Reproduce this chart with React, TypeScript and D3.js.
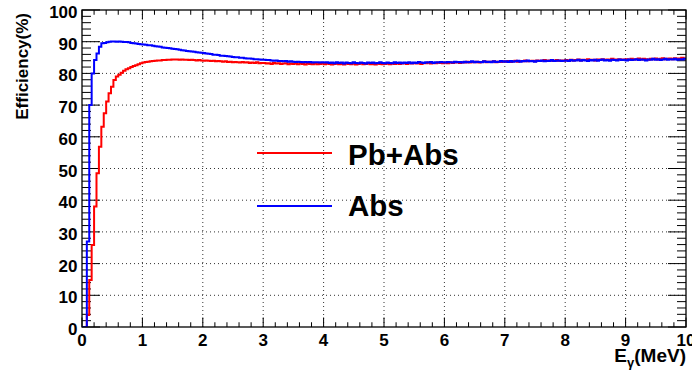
import React from 'react';
import * as d3 from 'd3';

const W = 692;
const H = 371;

// Tick labels
const xTickLabels = ['0', '1', '2', '3', '4', '5', '6', '7', '8', '9', '10'];
const yTickLabels = ['0', '10', '20', '30', '40', '50', '60', '70', '80', '90', '100'];

// Histogram binning (0.04 MeV bins from 0 to 10 MeV)
const BIN_WIDTH = 0.04;

// Pb+Abs efficiency (%) per bin
const pbAbs = [
  0, 0, 3.8, 14.8, 25.9, 38, 48.5, 56.9, 63.2, 67.4, 71.1, 73.7, 75.8, 77.9, 79.0, 79.6, 80.2, 80.8, 81.3, 81.6, 82.0, 82.3, 82.6, 82.9, 83.2,
  83.4, 83.6, 83.7, 83.8, 83.9, 84.0, 84.1, 84.1, 84.2, 84.2, 84.3, 84.3, 84.4, 84.4, 84.4, 84.3, 84.4, 84.3, 84.3, 84.2, 84.3, 84.2, 84.1, 84.2, 84.1,
  84.0, 84.1, 84.0, 83.9, 84.0, 83.8, 83.9, 83.8, 83.7, 83.8, 83.6, 83.7, 83.5, 83.6, 83.5, 83.4, 83.6, 83.4, 83.5, 83.3, 83.4, 83.3, 83.5, 83.2, 83.3,
  83.3, 83.1, 83.2, 83.0, 83.3, 83.1, 83.2, 83.0, 83.1, 83.2, 82.9, 83.1, 83.0, 83.2, 82.9, 83.1, 83.0, 82.8, 83.1, 83.0, 82.9, 83.1, 82.9, 83.0, 83.1,
  82.9, 83.1, 83.0, 82.8, 83.0, 83.1, 82.9, 83.0, 82.8, 83.1, 83.0, 82.9, 83.1, 82.8, 83.0, 83.2, 82.9, 83.0, 83.1, 82.9, 83.0, 82.8, 83.1, 83.0, 82.9,
  83.0, 83.1, 82.9, 83.1, 83.0, 83.2, 83.0, 83.1, 83.3, 83.0, 83.2, 83.1, 83.3, 83.1, 83.2, 83.0, 83.3, 83.2, 83.4, 83.1, 83.3, 83.2, 83.4, 83.3, 83.2,
  83.4, 83.2, 83.5, 83.3, 83.4, 83.6, 83.3, 83.5, 83.4, 83.7, 83.4, 83.6, 83.5, 83.7, 83.4, 83.6, 83.8, 83.5, 83.7, 83.6, 83.8, 83.5, 83.7, 83.6, 83.8,
  83.7, 83.9, 83.6, 83.8, 84.0, 83.7, 83.9, 83.8, 84.1, 83.8, 83.9, 84.0, 83.8, 84.1, 83.9, 84.0, 84.2, 83.9, 84.1, 84.0, 83.9, 84.2, 84.0, 84.1, 84.0,
  84.2, 84.0, 84.3, 84.1, 84.2, 84.4, 84.1, 84.3, 84.2, 84.5, 84.2, 84.3, 84.1, 84.4, 84.3, 84.5, 84.2, 84.4, 84.3, 84.6, 84.3, 84.4, 84.5, 84.3, 84.4,
  84.5, 84.3, 84.6, 84.4, 84.5, 84.7, 84.4, 84.6, 84.5, 84.3, 84.6, 84.5, 84.7, 84.4, 84.6, 84.8, 84.5, 84.6, 84.7, 84.5, 84.8, 84.6, 84.7, 84.9, 84.7,
];

// Abs efficiency (%) per bin
const abs = [
  0, 0, 27, 70, 80, 84.2, 86.3, 88.4, 89.5, 89.6, 89.8, 90.0, 90.1, 90.1, 90.0, 90.1, 90.0, 89.9, 89.9, 89.8, 89.6, 89.5, 89.4, 89.3, 89.2,
  89.1, 89.0, 88.9, 88.9, 88.7, 88.6, 88.5, 88.4, 88.2, 88.1, 88.0, 87.9, 87.8, 87.7, 87.6, 87.5, 87.3, 87.2, 87.1, 87.0, 86.9, 86.8, 86.7, 86.6, 86.5,
  86.4, 86.3, 86.2, 86.1, 85.9, 85.9, 85.8, 85.6, 85.6, 85.5, 85.4, 85.3, 85.2, 85.1, 85.1, 84.9, 84.9, 84.8, 84.7, 84.7, 84.6, 84.5, 84.5, 84.4, 84.3,
  84.3, 84.2, 84.2, 84.1, 84.0, 84.1, 83.9, 83.9, 83.8, 83.9, 83.7, 83.8, 83.7, 83.6, 83.7, 83.6, 83.5, 83.6, 83.5, 83.6, 83.4, 83.5, 83.5, 83.4, 83.5,
  83.4, 83.5, 83.3, 83.4, 83.2, 83.5, 83.3, 83.4, 83.1, 83.4, 83.3, 83.2, 83.5, 83.3, 83.2, 83.4, 83.3, 83.1, 83.4, 83.3, 83.4, 83.2, 83.3, 83.5, 83.3,
  83.2, 83.4, 83.3, 83.2, 83.5, 83.3, 83.4, 83.2, 83.4, 83.3, 83.5, 83.2, 83.4, 83.3, 83.6, 83.4, 83.3, 83.5, 83.4, 83.6, 83.3, 83.5, 83.4, 83.6, 83.5,
  83.4, 83.6, 83.5, 83.4, 83.7, 83.5, 83.6, 83.4, 83.7, 83.5, 83.6, 83.8, 83.5, 83.7, 83.6, 83.5, 83.8, 83.6, 83.7, 83.5, 83.8, 83.6, 83.7, 83.9, 83.7,
  83.8, 83.6, 83.9, 83.7, 83.8, 84.0, 83.7, 83.9, 83.8, 84.1, 83.8, 83.9, 83.7, 84.0, 83.9, 84.1, 83.8, 84.0, 83.9, 84.2, 83.9, 84.0, 84.1, 83.9, 84.0,
  84.1, 83.9, 84.2, 84.0, 84.1, 84.3, 84.0, 84.2, 84.1, 83.9, 84.2, 84.1, 84.3, 84.0, 84.2, 84.4, 84.1, 84.2, 84.0, 84.3, 84.2, 84.1, 84.4, 84.2, 84.3,
  84.1, 84.4, 84.2, 84.3, 84.5, 84.2, 84.4, 84.3, 84.1, 84.4, 84.3, 84.6, 84.3, 84.5, 84.2, 84.4, 84.6, 84.3, 84.5, 84.4, 84.6, 84.3, 84.5, 84.4, 84.6,
];

const seriesNames = ['Pb+Abs', 'Abs'];
const seriesColors = ['#ff0000', '#0000ff'];

const FONT = '"Liberation Sans", Arial, Helvetica, sans-serif';

export default function App() {
  const x = d3.scaleLinear().domain([0, 10]).range([82, 686]);
  const y = d3.scaleLinear().domain([0, 100]).range([327, 10]);
  const [x0, x1] = x.range();
  const [y0, y1] = y.range();

  const line = d3
    .line<[number, number]>()
    .x((d) => x(d[0]))
    .y((d) => y(d[1]))
    .curve(d3.curveStepAfter);

  const toPts = (vals: number[]): [number, number][] => [
    ...vals.map((v, i) => [i * BIN_WIDTH, v] as [number, number]),
    [vals.length * BIN_WIDTH, vals[vals.length - 1]],
  ];

  const xMajor = xTickLabels.map((t) => +t);
  const yMajor = yTickLabels.map((t) => +t);
  const xMinor = d3.range(0, 10.0001, 0.2).filter((v) => Math.abs(v - Math.round(v)) > 1e-6);
  const yMinor = d3.range(0, 100.0001, 2).filter((v) => v % 10 !== 0);

  const xMajLen = 9.5;
  const xMinLen = 4.75;
  const yMajLen = 18;
  const yMinLen = 9;

  const grid = '#333';

  return (
    <svg
      width={W}
      height={H}
      style={{ position: 'absolute', left: 0, top: 0, background: '#fff' }}
      fontFamily={FONT}
    >
      <rect x={0} y={0} width={W} height={H} fill="#fff" />
      <defs>
        <clipPath id="frame">
          <rect x={x0} y={y1} width={x1 - x0} height={y0 - y1} />
        </clipPath>
      </defs>

      {/* grid */}
      {xMajor.slice(1, -1).map((v) => (
        <line key={'gx' + v} x1={x(v)} x2={x(v)} y1={y0} y2={y1} stroke={grid} strokeWidth={1} strokeDasharray="1,3" />
      ))}
      {yMajor.slice(1, -1).map((v) => (
        <line key={'gy' + v} x1={x0} x2={x1} y1={y(v)} y2={y(v)} stroke={grid} strokeWidth={1} strokeDasharray="1,3" />
      ))}

      {/* ticks */}
      {xMajor.map((v) => (
        <g key={'xt' + v}>
          <line x1={x(v)} x2={x(v)} y1={y0} y2={y0 - xMajLen} stroke="#000" />
          <line x1={x(v)} x2={x(v)} y1={y1} y2={y1 + xMajLen} stroke="#000" />
        </g>
      ))}
      {xMinor.map((v) => (
        <g key={'xm' + v}>
          <line x1={x(v)} x2={x(v)} y1={y0} y2={y0 - xMinLen} stroke="#000" />
          <line x1={x(v)} x2={x(v)} y1={y1} y2={y1 + xMinLen} stroke="#000" />
        </g>
      ))}
      {yMajor.map((v) => (
        <g key={'yt' + v}>
          <line x1={x0} x2={x0 + yMajLen} y1={y(v)} y2={y(v)} stroke="#000" />
          <line x1={x1} x2={x1 - yMajLen} y1={y(v)} y2={y(v)} stroke="#000" />
        </g>
      ))}
      {yMinor.map((v) => (
        <g key={'ym' + v}>
          <line x1={x0} x2={x0 + yMinLen} y1={y(v)} y2={y(v)} stroke="#000" />
          <line x1={x1} x2={x1 - yMinLen} y1={y(v)} y2={y(v)} stroke="#000" />
        </g>
      ))}

      {/* histograms */}
      <g clipPath="url(#frame)">
        {[pbAbs, abs].map((vals, i) => (
          <path key={'s' + i} d={line(toPts(vals)) || ''} fill="none" stroke={seriesColors[i]} strokeWidth={2} />
        ))}
      </g>

      {/* frame */}
      <rect x={x0} y={y1} width={x1 - x0} height={y0 - y1} fill="none" stroke="#000" strokeWidth={1.3} />

      {/* tick labels */}
      {xTickLabels.map((t) => (
        <text key={'xl' + t} x={x(+t)} y={346} textAnchor="middle" fontSize={17} fontWeight="bold">
          {t}
        </text>
      ))}
      {yTickLabels.map((t) => (
        <text key={'yl' + t} x={77.5} y={y(+t) + 8} textAnchor="end" fontSize={17} fontWeight="bold">
          {t}
        </text>
      ))}

      {/* axis titles */}
      <text transform="translate(28,13) rotate(-90)" textAnchor="end" fontSize={17} fontWeight="bold">
        Efficiency(%)
      </text>
      <text x={686} y={362} textAnchor="end" fontSize={19} fontWeight="bold">
        E<tspan fontSize={13} dy={5}>γ</tspan>
        <tspan dy={-5}>(MeV)</tspan>
      </text>

      {/* legend */}
      {seriesNames.map((n, i) => (
        <g key={'lg' + i}>
          <line x1={257} x2={332} y1={153 + i * 53} y2={153 + i * 53} stroke={seriesColors[i]} strokeWidth={2} />
          <text x={348} y={164.5 + i * 51} fontSize={29.5} fontWeight="bold">
            {n}
          </text>
        </g>
      ))}
    </svg>
  );
}
